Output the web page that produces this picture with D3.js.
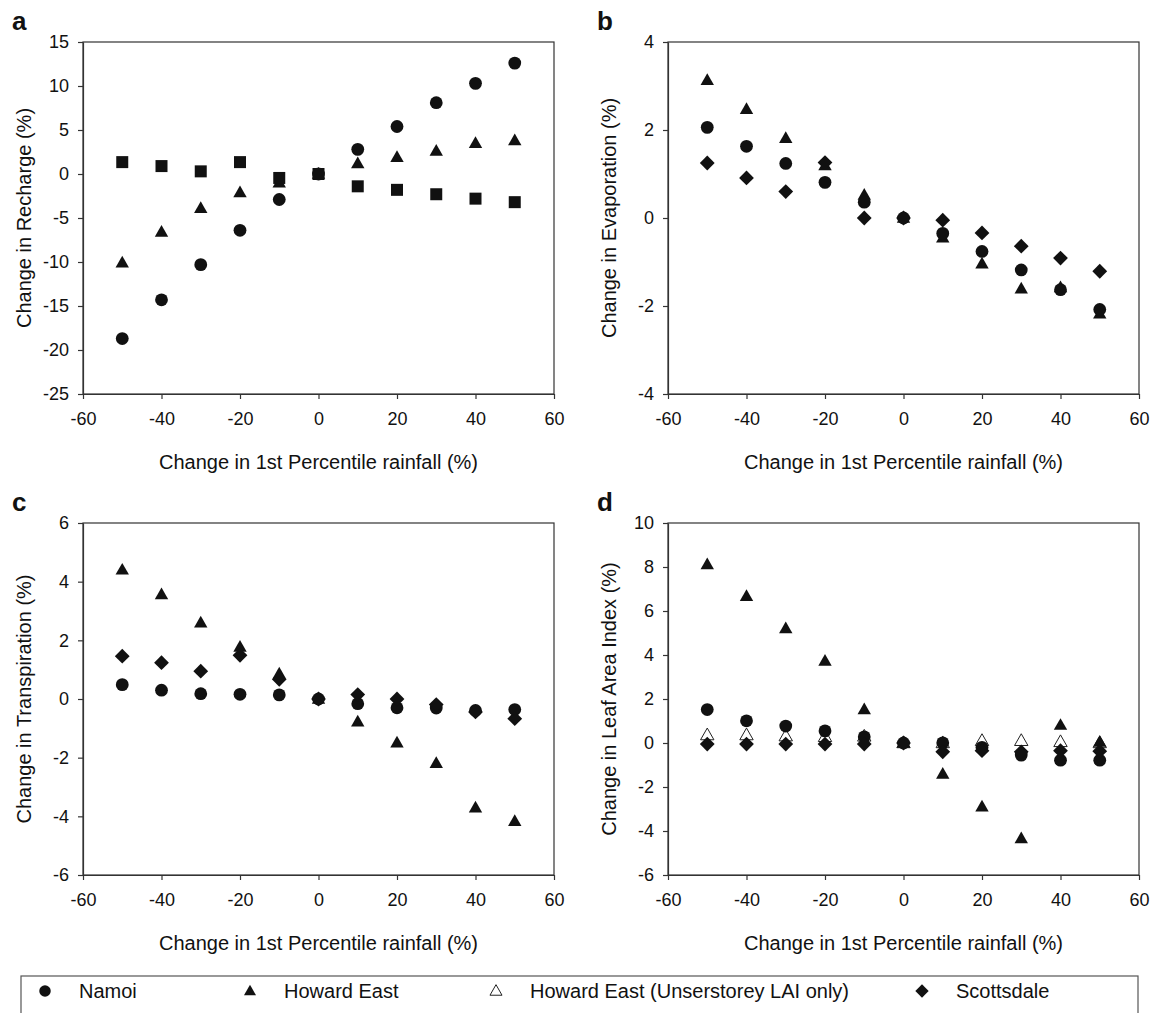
<!DOCTYPE html>
<html>
<head>
<meta charset="utf-8">
<script src="https://cdn.jsdelivr.net/npm/d3@7"></script>
<style>
  body { margin: 0; background: #fff; }
  text { font-family: "Liberation Sans", Arial, sans-serif; fill: #111; }
</style>
</head>
<body>
<div id="chart"></div>
<script>
// rainfall change steps (x axis, %)
var rainChange = [-50, -40, -30, -20, -10, 0, 10, 20, 30, 40, 50]
var xTicks = [-60, -40, -20, 0, 20, 40, 60]

// a: recharge
var rechargeNamoi = [-18.7, -14.3, -10.3, -6.4, -2.9, 0, 2.8, 5.4, 8.1, 10.3, 12.6]
var rechargeHoward = [-10.1, -6.6, -3.9, -2.1, -1.0, 0, 1.2, 1.9, 2.6, 3.5, 3.8]
var rechargeScottsdale = [1.35, 0.9, 0.3, 1.35, -0.45, 0, -1.4, -1.8, -2.3, -2.8, -3.2]

// b: evaporation
var evapNamoi = [2.06, 1.63, 1.24, 0.81, 0.36, 0, -0.35, -0.76, -1.18, -1.63, -2.08]
var evapHoward = [3.13, 2.47, 1.81, 1.19, 0.52, 0, -0.45, -1.04, -1.61, -1.58, -2.18]
var evapScottsdale = [1.25, 0.91, 0.6, 1.26, 0, 0, -0.05, -0.34, -0.64, -0.91, -1.21]

// c: transpiration
var transpNamoi = [0.49, 0.3, 0.18, 0.16, 0.14, 0, -0.16, -0.3, -0.31, -0.39, -0.36]
var transpHoward = [4.4, 3.56, 2.6, 1.77, 0.86, 0, -0.78, -1.49, -2.19, -3.71, -4.17]
var transpScottsdale = [1.46, 1.24, 0.95, 1.49, 0.67, 0, 0.15, 0, -0.19, -0.44, -0.67]

// d: leaf area index
var laiNamoi = [1.52, 1.01, 0.77, 0.55, 0.28, 0, 0.01, -0.2, -0.55, -0.78, -0.78]
var laiHoward = [8.11, 6.67, 5.2, 3.73, 1.52, 0, -1.41, -2.9, -4.34, 0.81, 0.04]
var laiHowardUnder = [0.36, 0.36, 0.31, 0.28, 0.3, 0, 0, 0.1, 0.1, 0.05, 0]
var laiScottsdale = [-0.05, -0.05, -0.05, -0.05, -0.05, 0, -0.4, -0.35, -0.4, -0.35, -0.37]

var legendNames = ['Namoi', 'Howard East', 'Howard East (Unserstorey LAI only)', 'Scottsdale']

var width = 1153, height = 1013

var svg = d3.select('#chart').append('svg')
            .attr('width', width)
            .attr('height', height)

// custom marker shapes (size = half-width in px)
var tri = { draw: function (ctx, r) {
  ctx.moveTo(0, -r * 1.05); ctx.lineTo(r, r * 0.7); ctx.lineTo(-r, r * 0.7); ctx.closePath()
} }
var diamond = { draw: function (ctx, r) {
  ctx.moveTo(0, -r); ctx.lineTo(r, 0); ctx.lineTo(0, r); ctx.lineTo(-r, 0); ctx.closePath()
} }
var square = { draw: function (ctx, r) { ctx.rect(-r, -r, 2 * r, 2 * r) } }
var circle = { draw: function (ctx, r) { ctx.arc(0, 0, r, 0, 2 * Math.PI) } }

var markers = {
  namoi: { type: circle, r: 6.4, fill: '#111' },
  howard: { type: tri, r: 6.7, fill: '#111' },
  under: { type: tri, r: 6.7, fill: '#fff' },
  scottSq: { type: square, r: 6, fill: '#111' },
  scott: { type: diamond, r: 7.4, fill: '#111' }
}

var panels = [
  { label: 'a', left: 83, top: 42, yDomain: [-25, 15], step: 5, title: 'Change in Recharge (%)',
    series: [[rechargeNamoi, 'namoi'], [rechargeHoward, 'howard'], [rechargeScottsdale, 'scottSq']] },
  { label: 'b', left: 668, top: 42, yDomain: [-4, 4], step: 2, title: 'Change in Evaporation (%)',
    series: [[evapHoward, 'howard'], [evapNamoi, 'namoi'], [evapScottsdale, 'scott']] },
  { label: 'c', left: 83, top: 523, yDomain: [-6, 6], step: 2, title: 'Change in Transpiration (%)',
    series: [[transpHoward, 'howard'], [transpNamoi, 'namoi'], [transpScottsdale, 'scott']] },
  { label: 'd', left: 668, top: 523, yDomain: [-6, 10], step: 2, title: 'Change in Leaf Area Index (%)',
    series: [[laiHowardUnder, 'under'], [laiHoward, 'howard'], [laiNamoi, 'namoi'], [laiScottsdale, 'scott']] }
]

var pw = 471, ph = 352
var plain = function (d) { return String(d) } // keep hyphen minus like the original

panels.forEach(function (p) {
  var g = svg.append('g').attr('transform', 'translate(' + p.left + ',' + p.top + ')')
  var x = d3.scaleLinear().domain([-60, 60]).range([0, pw])
  var y = d3.scaleLinear().domain(p.yDomain).range([ph, 0])
  var yTicks = d3.range(p.yDomain[0], p.yDomain[1] + 0.001, p.step)

  // frame
  g.append('rect').attr('width', pw).attr('height', ph)
   .attr('fill', 'none').attr('stroke', '#333').attr('stroke-width', 1.2)

  var xa = g.append('g').attr('transform', 'translate(0,' + ph + ')')
            .call(d3.axisBottom(x).tickValues(xTicks).tickFormat(plain)
                    .tickSize(5).tickSizeOuter(0).tickPadding(13))
  var ya = g.append('g')
            .call(d3.axisLeft(y).tickValues(yTicks).tickFormat(plain)
                    .tickSize(5).tickSizeOuter(0).tickPadding(9))
  ;[xa, ya].forEach(function (a) {
    a.selectAll('path, line').attr('stroke', '#333').attr('stroke-width', 1.2)
    a.selectAll('text').style('font-size', '18px').attr('fill', '#111')
    a.attr('font-family', null)
  })

  g.append('text').attr('x', pw / 2).attr('y', ph + 75)
   .attr('text-anchor', 'middle').style('font-size', '20px')
   .text('Change in 1st Percentile rainfall (%)')

  g.append('text').attr('transform', 'translate(-52,' + ph / 2 + ') rotate(-90)')
   .attr('text-anchor', 'middle').style('font-size', '20px')
   .text(p.title)

  g.append('text').attr('x', -71).attr('y', -12)
   .style('font-size', '26px').style('font-weight', 'bold')
   .text(p.label)

  p.series.forEach(function (s) {
    var m = markers[s[1]]
    g.append('g').selectAll('path')
     .data(s[0])
     .enter().append('path')
     .attr('transform', function (d, i) { return 'translate(' + x(rainChange[i]) + ',' + y(d) + ')' })
     .attr('d', d3.symbol().type(m.type).size(m.r))
     .attr('fill', m.fill)
     .attr('stroke', m.fill === '#fff' ? '#222' : 'none')
     .attr('stroke-width', 1)
  })
})

// legend
var lg = svg.append('g')
lg.append('rect').attr('x', 21).attr('y', 976).attr('width', 1117).attr('height', 80)
  .attr('fill', 'none').attr('stroke', '#555').attr('stroke-width', 1.2)

var legendX = [45, 250, 496, 922]
var legendKeys = ['namoi', 'howard', 'under', 'scott']
legendNames.forEach(function (name, i) {
  var m = markers[legendKeys[i]]
  lg.append('path')
    .attr('transform', 'translate(' + legendX[i] + ',991)')
    .attr('d', d3.symbol().type(m.type).size(m.r * 0.9))
    .attr('fill', m.fill)
    .attr('stroke', m.fill === '#fff' ? '#222' : 'none')
  lg.append('text').attr('x', legendX[i] + 34).attr('y', 998)
    .style('font-size', '20px').text(name)
})
</script>
</body>
</html>
